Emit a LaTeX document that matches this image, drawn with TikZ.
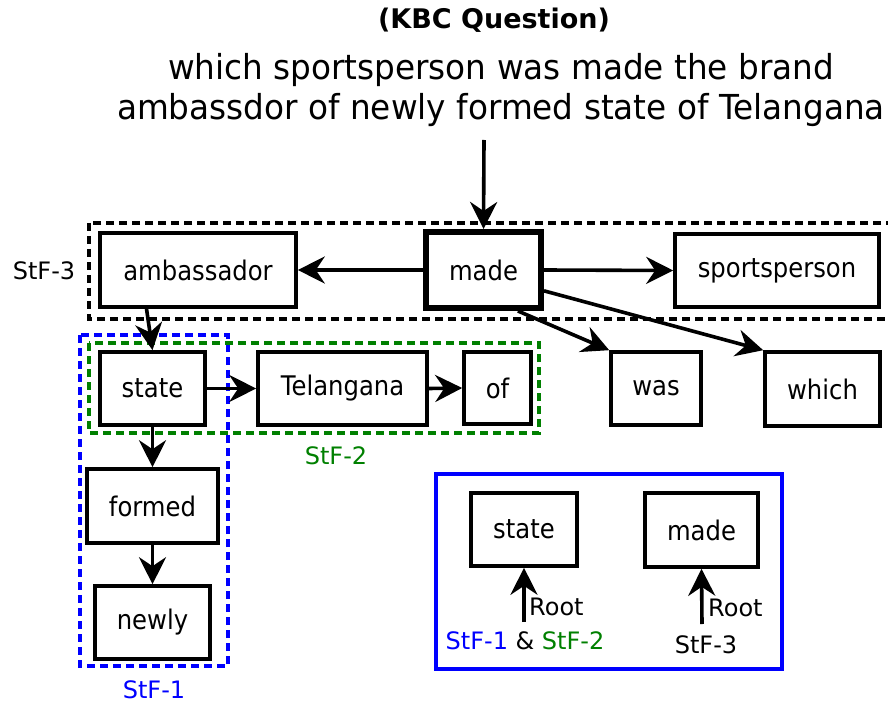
\documentclass[tikz,border=0pt]{standalone}
\usepackage{fontspec}
\setmainfont{DejaVu Sans}
\newfontfamily\wordfont{DejaVu Sans}[FakeStretch=0.9]
\newfontfamily\questionfont{DejaVu Sans}[FakeStretch=0.95]
\usetikzlibrary{arrows.meta}
\definecolor{stfblue}{RGB}{0,0,255}
\definecolor{stfgreen}{RGB}{0,128,0}
\begin{document}
\begin{tikzpicture}[x=1pt,y=-1pt,
  every node/.style={font=\fontsize{24}{28}\selectfont, inner sep=0pt},
  wordbox/.style={draw, line width=3.6pt, minimum height=73pt, font=\wordfont\fontsize{27}{30}\selectfont},
  rootbox/.style={wordbox, line width=6pt},
  dep/.style={line width=3.6pt, -{Stealth[length=27pt,width=27pt,inset=9pt]}},
  frame/.style={line width=3.6pt, dash pattern=on 8pt off 5pt},
]
\useasboundingbox (0,0) rectangle (888,703);

% heading and question
\node[font=\fontsize{27}{30}\selectfont\bfseries] (title) at (494,20) {(KBC Question)};
\node[font=\questionfont\fontsize{34.4}{40}\selectfont, align=center] (question) at (501,90)
  {which sportsperson was made the brand\\ ambassdor of newly formed state of Telangana};
\coordinate (qfoot) at (484,140);

% sub-tree frames
\draw[frame, black] (89,223) rectangle (896,319);
\draw[frame, stfblue] (80,335) rectangle (228,666);
\draw[frame, stfgreen] (89,343) rectangle (539,433);
\node (lab3) at (44,271) {StF-3};
\node[text=stfgreen] (lab2) at (336,456) {StF-2};
\node[text=stfblue] (lab1) at (154,690) {StF-1};

% word nodes
\node[rootbox, minimum width=115pt, minimum height=76pt] (made) at (483.5,270) {made};
\node[wordbox, minimum width=196pt, minimum height=74pt] (ambassador) at (198,270) {ambassador};
\node[wordbox, minimum width=204pt] (sportsperson) at (777,270.5) {sportsperson};
\node[wordbox, minimum width=90pt] (was) at (656,388.5) {was};
\node[wordbox, minimum width=115pt, minimum height=74pt] (which) at (822.5,389) {which};
\node[wordbox, minimum width=105pt] (state) at (152.5,388.5) {state};
\node[wordbox, minimum width=169pt] (telangana) at (342.5,388.5) {Telangana};
\node[wordbox, minimum width=67pt, minimum height=72pt] (of) at (497.5,388) {of};
\node[wordbox, minimum width=131pt, minimum height=74pt] (formed) at (152.5,506) {formed};
\node[wordbox, minimum width=115pt] (newly) at (152.5,622.5) {newly};

% dependencies
\draw[dep] (qfoot) -- (made.north);
\draw[dep] (made.west) -- (ambassador.east);
\draw[dep] (made.east) -- (sportsperson.west);
\draw[dep] (made.-50) -- (was.north west);
\draw[dep] (made.-19) -- (which.north west);
\draw[dep] (ambassador.-143) -- (state.north);
\draw[dep] (state.east) -- (telangana.west);
\draw[dep] (telangana.east) -- (of.west);
\draw[dep] (state.south) -- (formed.north);
\draw[dep] (formed.south) -- (newly.north);

% legend of roots
\draw[line width=3.6pt, stfblue] (436,474) rectangle (782,669);
\node[wordbox, minimum width=106pt] (rootstate) at (524,529.5) {state};
\node[wordbox, minimum width=113pt, minimum height=74pt] (rootmade) at (701.5,530) {made};
\coordinate (rs) at (524,622);
\coordinate (rm) at (702,624);
\draw[dep] (rs) -- (rootstate.south);
\draw[dep] (rm) -- (rootmade.south);
\node[anchor=west] (rootlab1) at (529,607) {Root};
\node[anchor=west] (rootlab2) at (708,608) {Root};
\node (stf12) at (525,641) {\textcolor{stfblue}{StF-1} \& \textcolor{stfgreen}{StF-2}};
\node (stf3) at (706,645) {StF-3};
\end{tikzpicture}
\end{document}
